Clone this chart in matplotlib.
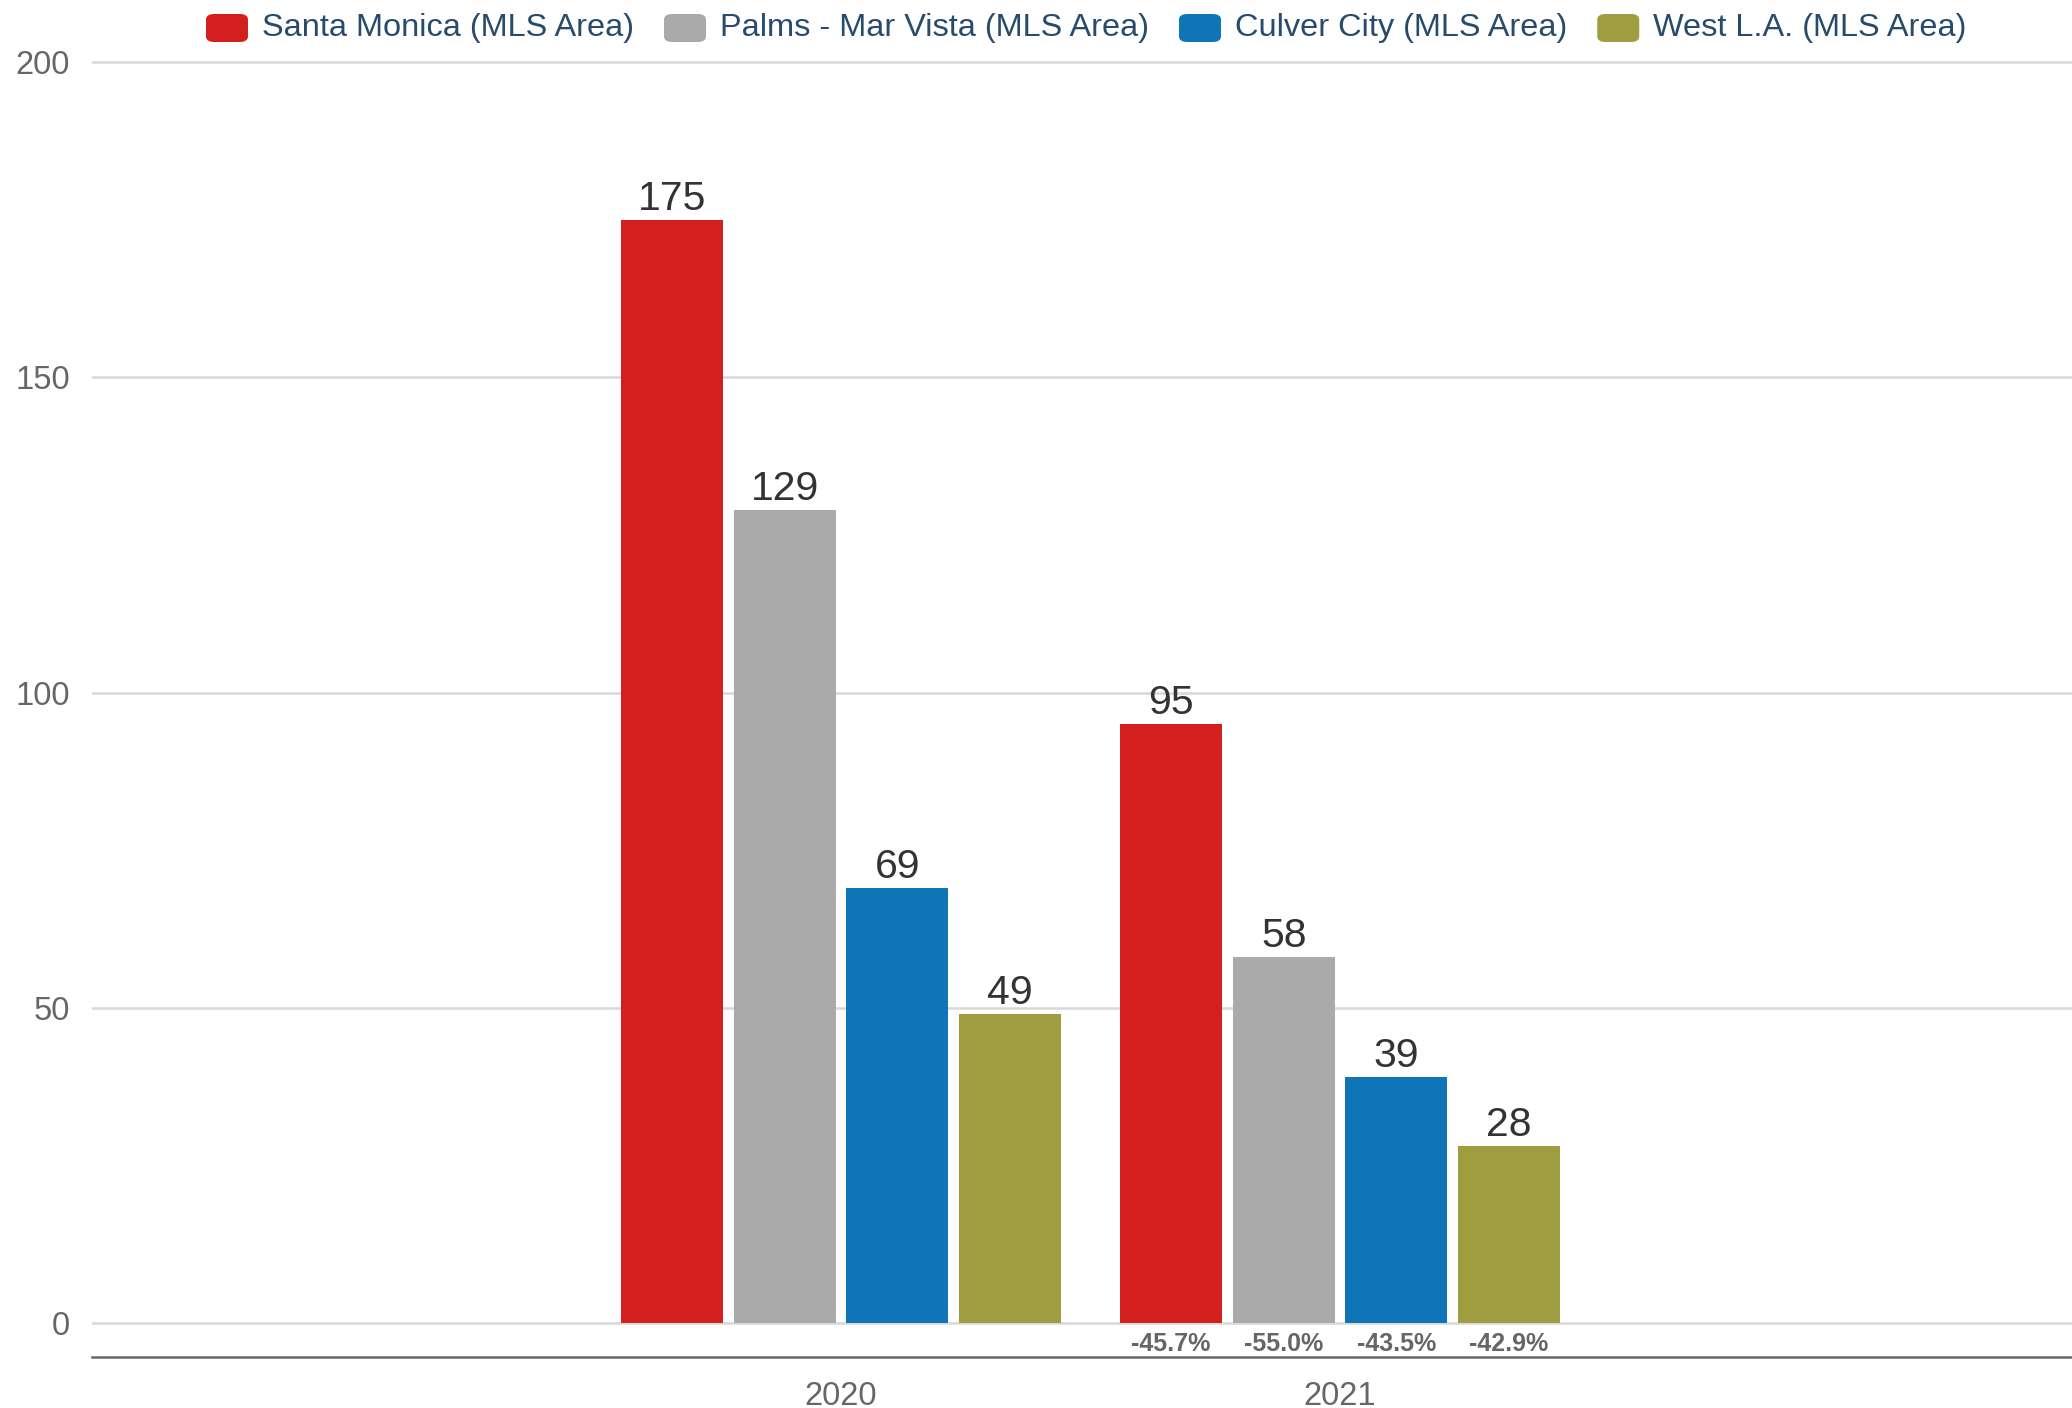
import numpy as np
import matplotlib.pyplot as plt
from matplotlib.patches import FancyBboxPatch

plt.rcParams['font.family'] = ['Liberation Sans', 'DejaVu Sans']

years = ['2020', '2021']
series_names = ['Santa Monica (MLS Area)', 'Palms - Mar Vista (MLS Area)',
                'Culver City (MLS Area)', 'West L.A. (MLS Area)']
santa_monica = [175, 95]
palms_mar_vista = [129, 58]
culver_city = [69, 39]
west_la = [49, 28]
colors = ['#d41f1f', '#aaaaaa', '#0f75b7', '#9e9e41']

series = [santa_monica, palms_mar_vista, culver_city, west_la]

fig = plt.figure(figsize=(20.72, 14.08), dpi=100)
ax = fig.add_axes([0.0446, 0.0362, 0.9554, 0.9218])

x = np.arange(len(years))
width = 0.204
pitch = 0.2255
for i, (vals, col) in enumerate(zip(series, colors)):
    pos = x + (i - 1.5) * pitch
    bars = ax.bar(pos, vals, width=width, color=col, zorder=3)
    for b, v in zip(bars, vals):
        ax.annotate(str(v), (b.get_x() + b.get_width() / 2, v),
                    xytext=(0, 1.5), textcoords='offset points',
                    ha='center', va='bottom', fontsize=29.5, color='#333333', zorder=4)
    # change from first to last year
    chg = (vals[-1] / vals[0] - 1) * 100
    ax.text(pos[-1], -3.3, '%.1f%%' % chg, ha='center', va='center',
            fontsize=18, fontweight='bold', color='#666666')

ax.set_xlim(-1.5, 2.467)
ax.set_ylim(-5.4, 200.5)
ax.set_yticks([0, 50, 100, 150, 200])
ax.set_xticks(x)
ax.set_xticklabels(years)
ax.grid(axis='y', color='#d8d8d8', linewidth=1.8, zorder=0)
ax.set_axisbelow(True)
for s in ['top', 'right', 'left']:
    ax.spines[s].set_visible(False)
ax.spines['bottom'].set_color('#666666')
ax.spines['bottom'].set_linewidth(1.8)
ax.tick_params(axis='y', length=0, pad=16, labelsize=23.5, labelcolor='#666666')
ax.tick_params(axis='x', length=0, pad=17, labelsize=23.5, labelcolor='#666666')

# legend across the top
fig.canvas.draw()
renderer = fig.canvas.get_renderer()
W, H = fig.bbox.width, fig.bbox.height
xcur = 206
ycen = 28
for name, col in zip(series_names, colors):
    patch = FancyBboxPatch((xcur / W, (H - ycen - 14) / H), 42 / W, 28 / H,
                           boxstyle='round,pad=0,rounding_size=0.004',
                           transform=fig.transFigure, facecolor=col, edgecolor='none')
    fig.patches.append(patch)
    t = fig.text((xcur + 56) / W, 1 - ycen / H, name, ha='left', va='center',
                 fontsize=23.4, color='#274b6d')
    bb = t.get_window_extent(renderer)
    xcur = bb.x1 + 30

fig.savefig('out.png', dpi=100)
